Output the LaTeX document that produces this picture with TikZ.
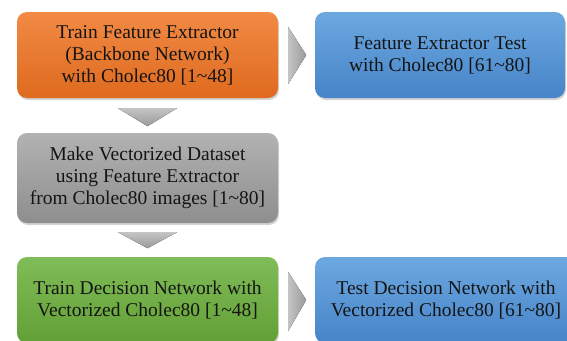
\documentclass[tikz,border=0pt]{standalone}
\usepackage{fontspec}
\setmainfont{Liberation Serif}
\usetikzlibrary{shadows,calc}
\definecolor{orT}{HTML}{F28A45}
\definecolor{orB}{HTML}{DE6A1E}
\definecolor{blT}{HTML}{6CA8E0}
\definecolor{blB}{HTML}{4784C8}
\definecolor{grT}{HTML}{B2B2B2}
\definecolor{grB}{HTML}{8E8E8E}
\definecolor{gnT}{HTML}{80BC57}
\definecolor{gnB}{HTML}{62A036}
\definecolor{arL}{HTML}{C4C4C4}
\definecolor{arD}{HTML}{9A9A9A}
\definecolor{txt}{HTML}{141414}
\tikzset{
  box/.style={rounded corners=10pt, minimum height=86pt, align=center,
    text=txt, font=\fontsize{19.5}{22}\selectfont, inner xsep=2pt,
    drop shadow={opacity=0.35, shadow xshift=1pt, shadow yshift=-2pt}},
  orangebox/.style={box, top color=orT, bottom color=orB},
  bluebox/.style={box, top color=blT, bottom color=blB},
  graybox/.style={box, top color=grT, bottom color=grB},
  greenbox/.style={box, top color=gnT, bottom color=gnB},
  rarrow/.style={left color=arL, right color=arD, draw=none},
  darrow/.style={top color=arL, bottom color=arD, draw=none}
}
\begin{document}
\begin{tikzpicture}[x=1pt,y=-1pt]
\useasboundingbox (0,0) rectangle (567,340);
\node[orangebox, minimum width=261pt] (A) at (147.5,55) {Train Feature Extractor\\(Backbone Network)\\with Cholec80 [1\textasciitilde48]};
\node[bluebox, minimum width=250pt] (B) at (440,55) {Feature Extractor Test\\with Cholec80 [61\textasciitilde80]};
\node[graybox, minimum width=261pt, minimum height=90pt] (C) at (147.5,178) {Make Vectorized Dataset\\using Feature Extractor\\from Cholec80 images [1\textasciitilde80]};
\node[greenbox, minimum width=261pt] (D) at (147.5,300) {Train Decision Network with\\Vectorized Cholec80 [1\textasciitilde48]};
\node[bluebox, minimum width=262pt] (E) at (446,300) {Test Decision Network with\\Vectorized Cholec80 [61\textasciitilde80]};
% right arrows
\fill[rarrow] ($(A.east)+(10,-28)$) -- ($(A.east)+(28,0)$) -- ($(A.east)+(10,29)$) -- cycle;
\fill[rarrow] ($(D.east)+(10,-28)$) -- ($(D.east)+(28,0)$) -- ($(D.east)+(10,31)$) -- cycle;
% down arrows
\fill[darrow] ($(A.south)+(-29.5,10)$) -- ($(A.south)+(29.5,10)$) -- ($(A.south)+(0,28)$) -- cycle;
\fill[darrow] ($(C.south)+(-29.5,9)$) -- ($(C.south)+(29.5,9)$) -- ($(C.south)+(0,25)$) -- cycle;
\end{tikzpicture}
\end{document}
